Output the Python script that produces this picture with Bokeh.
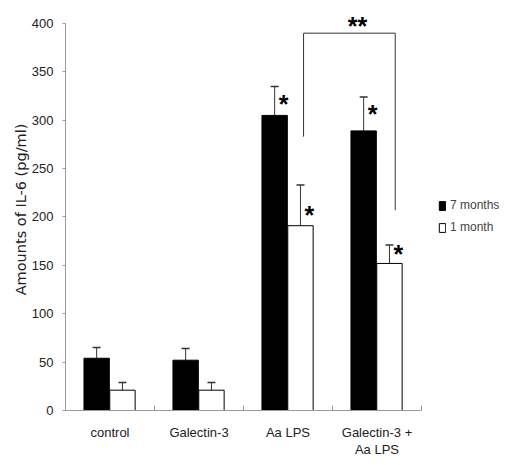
from bokeh.plotting import figure
from bokeh.models import (Range1d, FixedTicker, Legend, LegendItem, ColumnDataSource)
from bokeh.core.properties import value
from bokeh.embed import file_html
from bokeh.resources import INLINE

# ---- data ----
categories = ["control", "Galectin-3", "Aa LPS", "Galectin-3 +\nAa LPS"]
seven_months = [54, 52, 305, 289]
seven_err = [11, 12, 30, 35]
one_month = [21, 21, 191, 152]
one_err = [8, 8, 42, 19]
series_names = ["7 months", "1 month"]
y_ticks = [0, 50, 100, 150, 200, 250, 300, 350, 400]

# significance marks: (category index, series index, label centre value)
star_cat = [2, 2, 3, 3]
star_series = [0, 1, 0, 1]
star_val = [322, 207, 312, 167]
bracket_top = 390
bracket_left_bottom = 283
bracket_right_bottom = 207
bracket_label = "**"

# ---- layout constants ----
BAR_W = 0.285
OFFS = [-0.145, 0.145]
CENTER_SHIFT = -0.005
N = len(categories)
LEFT = 65
TOP = 8
PX_PER_CAT = 89.0
FRAME_W = 438
FRAME_H = 402
X_END = FRAME_W / PX_PER_CAT   # extra room on the right holds the legend

p = figure(frame_width=FRAME_W, frame_height=FRAME_H, output_backend="svg",
           toolbar_location=None,
           x_range=Range1d(0, X_END), y_range=Range1d(0, 415.5),
           min_border_left=LEFT, min_border_right=0, min_border_top=TOP,
           min_border_bottom=30)
p.outline_line_color = None
p.xgrid.visible = False
p.ygrid.visible = False
p.background_fill_color = "white"

FONT = "Liberation Sans"

xs = []
for s in range(2):
    xs.append([i + 0.5 + CENTER_SHIFT + OFFS[s] for i in range(N)])

vals = [seven_months, one_month]
errs = [seven_err, one_err]
fills = ["black", "white"]

renderers = []
for s in range(2):
    src = ColumnDataSource(dict(x=xs[s], top=vals[s],
                                etop=[v + e for v, e in zip(vals[s], errs[s])]))
    p.segment(x0="x", y0="top", x1="x", y1="etop", source=src,
              line_color="#333333", line_width=1)
    cap_src = ColumnDataSource(dict(x0=[x - 0.045 for x in xs[s]],
                                    x1=[x + 0.045 for x in xs[s]],
                                    y=[v + e for v, e in zip(vals[s], errs[s])]))
    p.segment(x0="x0", y0="y", x1="x1", y1="y", source=cap_src,
              line_color="#333333", line_width=1.5)
    r = p.vbar(x="x", top="top", width=BAR_W, bottom=0, source=src,
               fill_color=fills[s], line_color="black", line_width=1)
    renderers.append(r)

# stars
star_x = [xs[s][c] + 0.10 for c, s in zip(star_cat, star_series)]
p.text(x=star_x, y=star_val, text=["*"] * len(star_x),
       text_font=value(FONT), text_font_style="bold", text_font_size="25px",
       text_align="center", text_baseline="middle", text_color="black",
       y_offset=5)

# bracket between Aa LPS (1 month) and Galectin-3 + Aa LPS (1 month)
bl = xs[1][2] + 0.035
br = xs[1][3] + 0.065
p.line(x=[bl, bl, br, br],
       y=[bracket_left_bottom, bracket_top, bracket_top, bracket_right_bottom],
       line_color="#333333", line_width=1)
p.text(x=[(bl + br) / 2 + 0.09], y=[408], text=[bracket_label],
       text_font=value(FONT), text_font_style="bold", text_font_size="25px",
       text_align="center", text_baseline="middle", text_color="black",
       y_offset=10)

# axes
xa = p.xaxis[0]
xa.ticker = FixedTicker(ticks=[i + 0.5 for i in range(N)],
                        minor_ticks=list(range(N + 1)))
xa.major_label_overrides = {i + 0.5: c for i, c in enumerate(categories)}
xa.bounds = (0, N)
xa.major_tick_line_color = None
xa.major_tick_out = 0
xa.major_tick_in = 0
xa.minor_tick_in = 5
xa.minor_tick_out = 0
xa.minor_tick_line_color = "#999999"
xa.axis_line_color = "#999999"
xa.major_label_standoff = 14
xa.major_label_text_font = FONT
xa.major_label_text_font_size = "13px"
xa.major_label_text_line_height = 1.15
xa.major_label_text_color = "#222222"

ya = p.yaxis[0]
ya.ticker = FixedTicker(ticks=y_ticks, minor_ticks=[])
ya.bounds = (0, 400)
ya.axis_line_color = "#999999"
ya.major_tick_line_color = "#999999"
ya.major_tick_out = 3
ya.major_tick_in = 0
ya.major_label_standoff = 9
ya.major_label_text_font = FONT
ya.major_label_text_font_size = "13px"
ya.major_label_text_color = "#222222"
ya.axis_label = "Amounts of IL-6 (pg/ml)"
ya.axis_label_text_font = "DejaVu Sans"
ya.axis_label_text_font_style = "normal"
ya.axis_label_text_font_size = "14.5px"
ya.axis_label_text_color = "#222222"
ya.axis_label_standoff = 0

legend = Legend(items=[LegendItem(label=series_names[0], renderers=[renderers[0]]),
                       LegendItem(label=series_names[1], renderers=[renderers[1]])],
                location=(373, 176), orientation="vertical")
legend.glyph_width = 8
legend.glyph_height = 11
legend.label_text_font = FONT
legend.label_text_font_size = "12px"
legend.label_standoff = 4
legend.spacing = 8
legend.padding = 0
legend.margin = 0
legend.border_line_color = None
legend.background_fill_alpha = 0
p.add_layout(legend, "center")

open("out.html", "w").write(file_html(p, INLINE))
